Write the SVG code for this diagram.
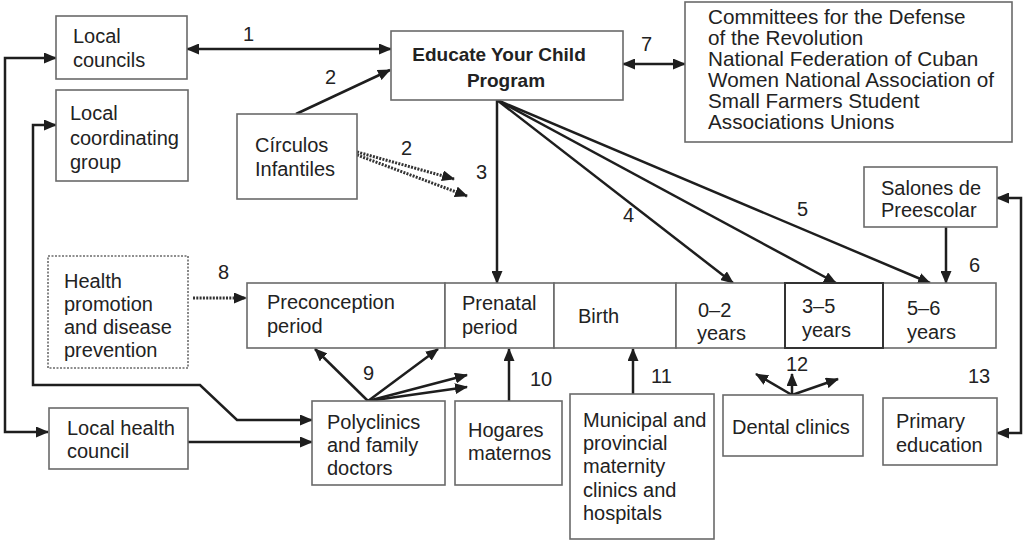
<svg xmlns="http://www.w3.org/2000/svg" width="1024" height="541" viewBox="0 0 1024 541">
<defs>
<marker id="ah" markerUnits="userSpaceOnUse" markerWidth="13" markerHeight="11" refX="12" refY="5.5" orient="auto-start-reverse">
<path d="M0,0 L13,5.5 L0,11 z" fill="#1e1e1e"/>
</marker>
</defs>
<style>
text{font-family:"Liberation Sans",Arial,sans-serif;font-size:20px;fill:#222}
.b{font-weight:bold;font-size:19px}
.n{font-size:20px}
.w{font-size:20.7px}
.box{fill:#fff;stroke:#6a6a6a;stroke-width:1.6}
.dk{fill:#fff;stroke:#333;stroke-width:2}
.dot{fill:#fff;stroke:#6a6a6a;stroke-width:1.6;stroke-dasharray:2 1.5}
.c{fill:none;stroke:#1e1e1e;stroke-width:2.5}
.cd{fill:none;stroke:#333;stroke-width:3;stroke-dasharray:2 1.3}
</style>
<rect width="1024" height="541" fill="#fff"/>

<g id="connectors">
<path class="c" d="M187,49 L391,49" marker-start="url(#ah)" marker-end="url(#ah)"/>
<path class="c" d="M296,114 L390,70" marker-end="url(#ah)"/>
<path class="cd" d="M357,152 L454,179" marker-end="url(#ah)"/>
<path class="cd" d="M357,155 L467,196" marker-end="url(#ah)"/>
<path class="c" d="M497,100 L497,283" marker-end="url(#ah)"/>
<path class="c" d="M497,100 L733,283" marker-end="url(#ah)"/>
<path class="c" d="M497,100 L836,283" marker-end="url(#ah)"/>
<path class="c" d="M497,100 L930,283" marker-end="url(#ah)"/>
<path class="c" d="M946,227 L946,283" marker-end="url(#ah)"/>
<path class="c" d="M623,64 L685,64" marker-start="url(#ah)" marker-end="url(#ah)"/>
<path class="cd" d="M193,298 L246,298" marker-end="url(#ah)" stroke-width="2.5"/>
<path class="c" d="M368,401 L315,349" marker-end="url(#ah)"/>
<path class="c" d="M368,401 L438,349" marker-end="url(#ah)"/>
<path class="c" d="M368,401 L467,375" marker-end="url(#ah)"/>
<path class="c" d="M368,401 L467,387" marker-end="url(#ah)"/>
<path class="c" d="M509,401 L509,349" marker-end="url(#ah)"/>
<path class="c" d="M633,394 L633,349" marker-end="url(#ah)"/>
<path class="c" d="M792,395 L756,374" marker-end="url(#ah)"/>
<path class="c" d="M792,395 L792,374" marker-end="url(#ah)"/>
<path class="c" d="M792,395 L838,379" marker-end="url(#ah)"/>
<path class="c" d="M56,58 L5,58 L5,432 L48,432" marker-start="url(#ah)" marker-end="url(#ah)"/>
<path class="c" d="M56,125 L33,125 L33,385 L200,385 L237,420 L312,420" marker-start="url(#ah)" marker-end="url(#ah)"/>
<path class="c" d="M188,442 L312,442" marker-end="url(#ah)"/>
<path class="c" d="M997,198 L1021,198 L1021,433 L997,433" marker-start="url(#ah)" marker-end="url(#ah)"/>
</g>

<g id="labels">
<text class="n" x="243" y="41">1</text>
<text class="n" x="325" y="84">2</text>
<text class="n" x="401" y="155">2</text>
<text class="n" x="476" y="179">3</text>
<text class="n" x="623" y="222">4</text>
<text class="n" x="797" y="216">5</text>
<text class="n" x="969" y="272">6</text>
<text class="n" x="641" y="51">7</text>
<text class="n" x="218" y="279">8</text>
<text class="n" x="363" y="380">9</text>
<text class="n" x="530" y="386">10</text>
<text class="n" x="651" y="383">11</text>
<text class="n" x="786" y="371">12</text>
<text class="n" x="968" y="383">13</text>
</g>

<g id="local-councils">
<rect class="box" x="56" y="16" width="131" height="63"/>
<text x="73" y="43">Local</text>
<text x="73" y="67">councils</text>
</g>

<g id="local-coordinating-group">
<rect class="box" x="56" y="90" width="132" height="91"/>
<text x="70" y="120">Local</text>
<text x="70" y="145">coordinating</text>
<text x="70" y="169">group</text>
</g>

<g id="circulos-infantiles">
<rect class="box" x="237" y="114" width="120" height="85"/>
<text x="255" y="152">Círculos</text>
<text x="255" y="176">Infantiles</text>
</g>

<g id="educate-your-child">
<rect class="box" x="391" y="31" width="232" height="69"/>
<text class="b" x="499" y="61" text-anchor="middle">Educate Your Child</text>
<text class="b" x="506" y="87" text-anchor="middle">Program</text>
</g>

<g id="committees">
<rect class="box" x="685" y="2" width="327" height="140"/>
<text class="w" x="708" y="24">Committees for the Defense</text>
<text class="w" x="708" y="45">of the Revolution</text>
<text class="w" x="708" y="66">National Federation of Cuban</text>
<text class="w" x="708" y="87">Women National Association of</text>
<text class="w" x="708" y="108">Small Farmers Student</text>
<text class="w" x="708" y="129">Associations Unions</text>
</g>

<g id="salones-de-preescolar">
<rect class="box" x="864" y="167" width="133" height="60"/>
<text x="881" y="195">Salones de</text>
<text x="881" y="217">Preescolar</text>
</g>

<g id="health-promotion">
<rect class="dot" x="48" y="256" width="140" height="112"/>
<text x="64" y="288">Health</text>
<text x="64" y="311">promotion</text>
<text x="64" y="334">and disease</text>
<text x="64" y="357">prevention</text>
</g>

<g id="preconception-period">
<rect class="box" x="247" y="283" width="198" height="65"/>
<text x="267" y="309">Preconception</text>
<text x="267" y="333">period</text>
</g>

<g id="prenatal-period">
<rect class="box" x="445" y="283" width="109" height="65"/>
<text x="462" y="310">Prenatal</text>
<text x="462" y="334">period</text>
</g>

<g id="birth">
<rect class="box" x="554" y="283" width="122" height="65"/>
<text x="578" y="323">Birth</text>
</g>

<g id="years-0-2">
<rect class="box" x="676" y="283" width="109" height="65"/>
<text x="698" y="317">0–2</text>
<text x="697" y="340">years</text>
</g>

<g id="years-5-6">
<rect class="box" x="883" y="283" width="113" height="65"/>
<text x="907" y="315">5–6</text>
<text x="907" y="339">years</text>
</g>

<g id="years-3-5">
<rect class="dk" x="785" y="283" width="98" height="65"/>
<text x="802" y="313">3–5</text>
<text x="802" y="337">years</text>
</g>

<g id="local-health-council">
<rect class="box" x="49" y="408" width="139" height="61"/>
<text x="67" y="435">Local health</text>
<text x="67" y="458">council</text>
</g>

<g id="polyclinics">
<rect class="box" x="312" y="401" width="133" height="84"/>
<text x="327" y="429">Polyclinics</text>
<text x="327" y="452">and family</text>
<text x="327" y="475">doctors</text>
</g>

<g id="hogares-maternos">
<rect class="box" x="455" y="401" width="107" height="84"/>
<text x="468" y="437">Hogares</text>
<text x="468" y="460">maternos</text>
</g>

<g id="municipal-maternity">
<rect class="box" x="570" y="394" width="144" height="145"/>
<text x="583" y="427">Municipal and</text>
<text x="583" y="450">provincial</text>
<text x="583" y="473">maternity</text>
<text x="583" y="497">clinics and</text>
<text x="583" y="520">hospitals</text>
</g>

<g id="dental-clinics">
<rect class="box" x="723" y="395" width="140" height="61"/>
<text x="732" y="434">Dental clinics</text>
</g>

<g id="primary-education">
<rect class="box" x="883" y="398" width="114" height="67"/>
<text x="896" y="428">Primary</text>
<text x="896" y="452">education</text>
</g>
</svg>
